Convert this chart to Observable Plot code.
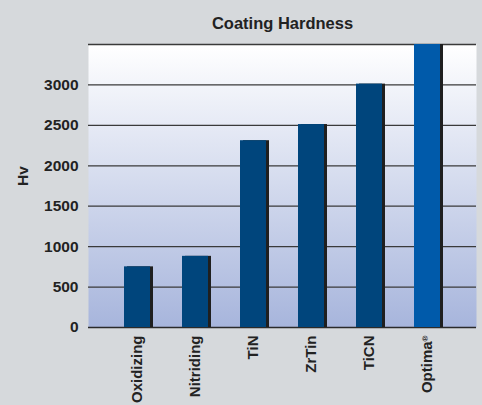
<!DOCTYPE html>
<html>
<head>
<meta charset="utf-8">
<script src="https://cdn.jsdelivr.net/npm/d3@7"></script>
<script src="https://cdn.jsdelivr.net/npm/@observablehq/plot@0.6"></script>
<style>
  html, body { margin: 0; padding: 0; background: #d6d9dc; }
  #chart svg { display: block; }
</style>
</head>
<body>
<div id="chart"></div>
<script>
const categories = ["Oxidizing", "Nitriding", "TiN", "ZrTin", "TiCN", "Optima®"];
const hardness = [750, 880, 2310, 2510, 3010, 3500];
const yTicks = [0, 500, 1000, 1500, 2000, 2500, 3000];
const gridLines = [500, 1000, 1500, 2000, 2500, 3000, 3500];
const highlight = "Optima®";

const data = categories.map((c, i) => ({ category: c, value: hardness[i] }));

const font = "'Liberation Sans', Arial, Helvetica, sans-serif";

const chart = Plot.plot({
  width: 482,
  height: 405,
  marginLeft: 88,
  marginRight: 6,
  marginTop: 44,
  marginBottom: 78,
  style: { background: "#d6d9dc", fontFamily: font, fontWeight: "bold", fontSize: "15px", color: "#222" },
  x: { type: "band", domain: categories, padding: 0.55, insetLeft: 1.7, insetRight: 1.5, label: null },
  y: { domain: [0, 3500], label: null },
  marks: [
    Plot.frame({ fill: "url(#bgGrad)", stroke: "none" }),
    Plot.ruleY(gridLines, { stroke: "#3a3a3a", strokeWidth: 1.3 }),
    Plot.ruleY([0], { stroke: "#2a2a2a", strokeWidth: 1.5 }),
    Plot.barY(data, { x: "category", y: "value", fill: "#1f1f1f", dx: 3 }),
    Plot.barY(data, { x: "category", y: "value", fill: d => d.category === highlight ? "#005aaa" : "#00457c" }),
    Plot.axisY({ ticks: yTicks, tickSize: 0, tickPadding: 10, tickFormat: d => String(d), fontSize: 15.5, fontWeight: "bold", fill: "#222" }),
    Plot.axisX({ tickSize: 0, tickPadding: 8, tickRotate: -90, fontSize: 15, fontWeight: "bold", fill: "#222" }),
    Plot.text(["Hv"], { frameAnchor: "left", dx: -65, rotate: -90, fontSize: 15.5, fontWeight: "bold", fill: "#222" }),
    Plot.text(["Coating Hardness"], { frameAnchor: "top", dy: -27, fontSize: 16.5, fontWeight: "bold", fill: "#222" })
  ]
});

// gradient background for the plotting area
const svg = d3.select(chart);
const defs = svg.insert("defs", ":first-child");
const grad = defs.append("linearGradient").attr("id", "bgGrad").attr("x1", 0).attr("y1", 0).attr("x2", 0).attr("y2", 1);
grad.append("stop").attr("offset", "0%").attr("stop-color", "#ffffff");
grad.append("stop").attr("offset", "100%").attr("stop-color", "#a7b5dc");

// superscript registered mark
svg.selectAll("text").each(function () {
  const t = d3.select(this);
  if (t.text() === "Optima®") {
    t.text("Optima");
    t.append("tspan").attr("baseline-shift", "super").attr("font-size", "8px").text("®");
  }
});

document.getElementById("chart").appendChild(chart);
</script>
</body>
</html>
